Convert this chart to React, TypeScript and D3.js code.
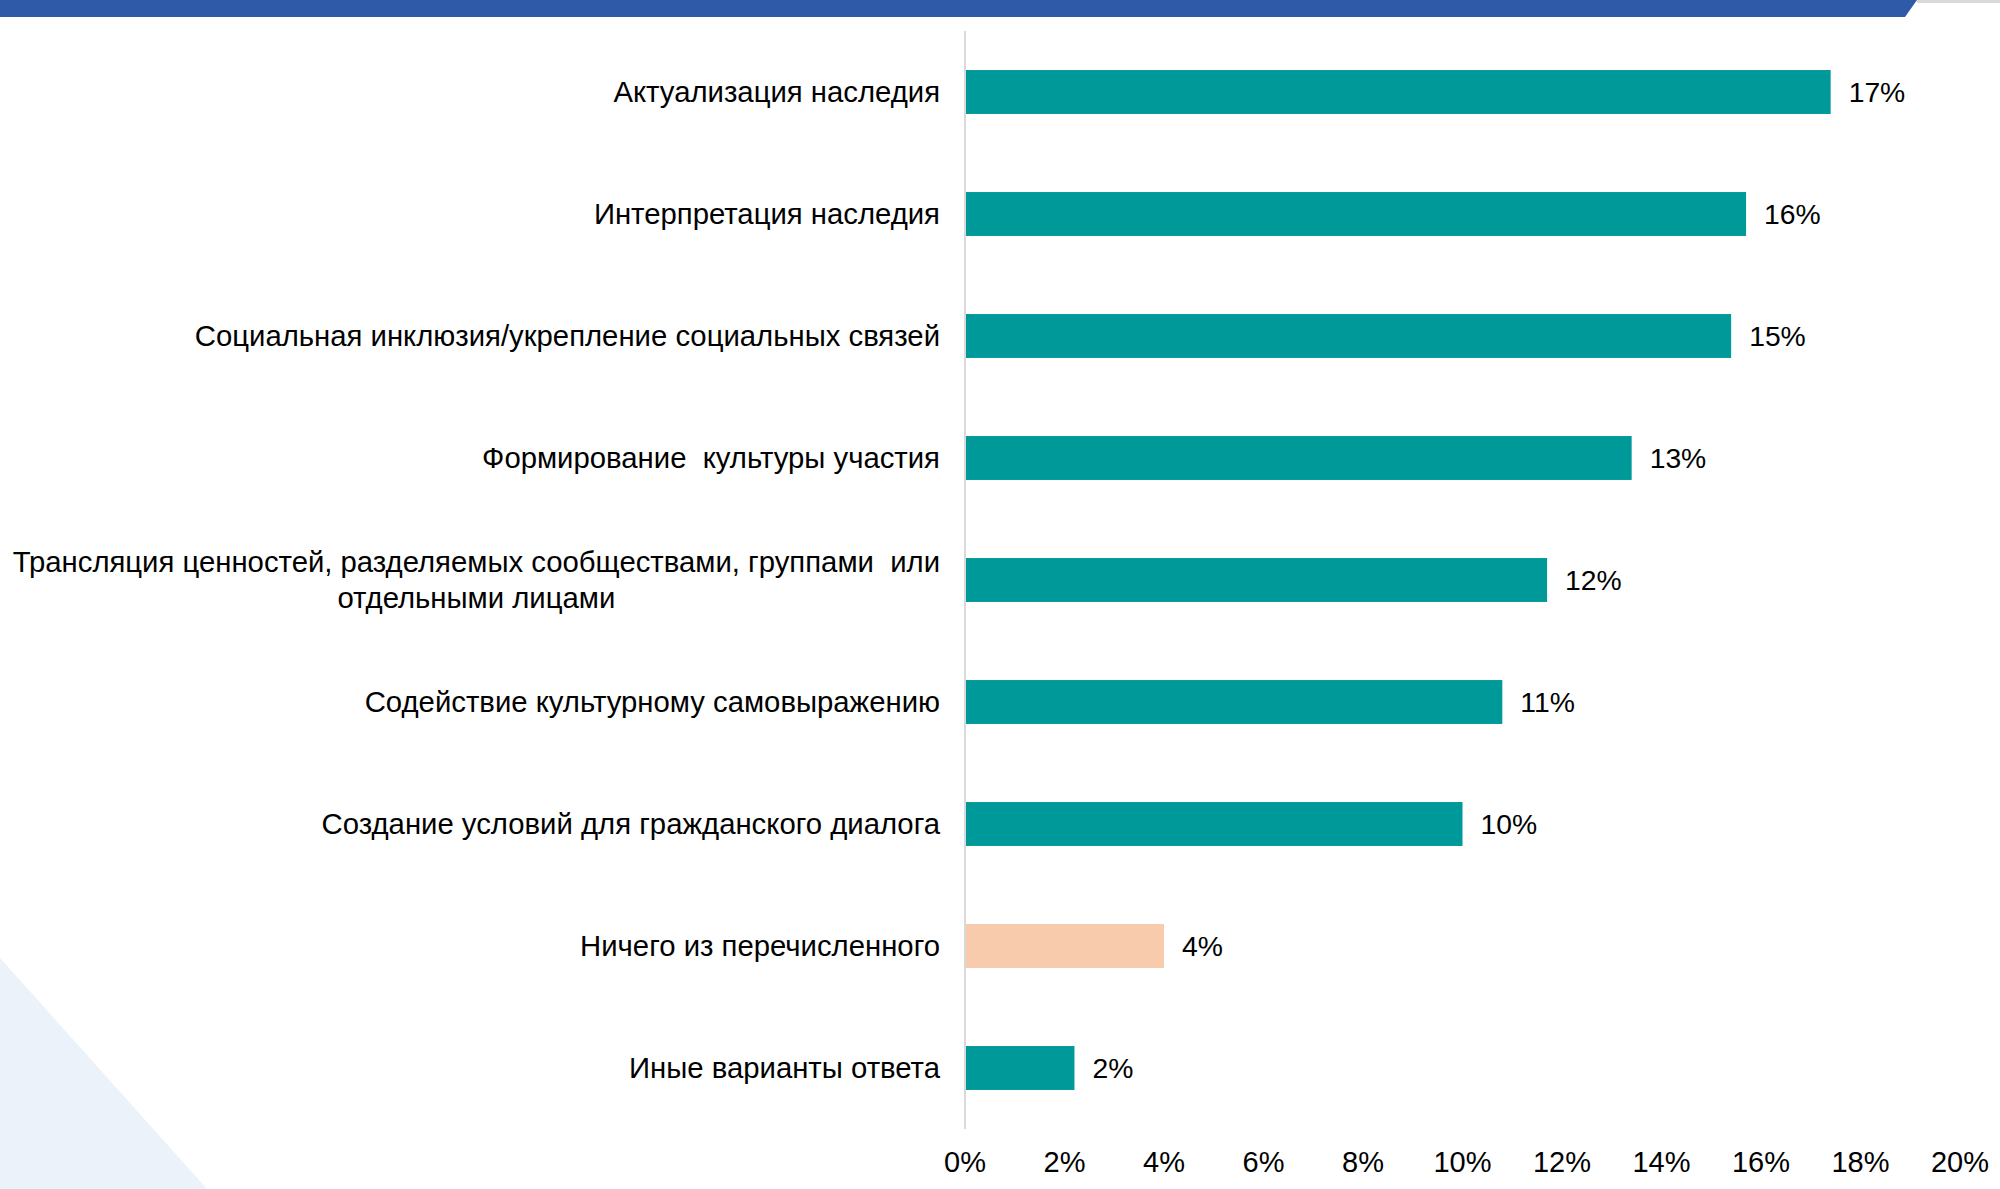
import React, { useEffect, useRef } from "react";
import * as d3 from "d3";

const categories: string[] = [
  "Актуализация наследия",
  "Интерпретация наследия",
  "Социальная инклюзия/укрепление социальных связей",
  "Формирование  культуры участия",
  "Трансляция ценностей, разделяемых сообществами, группами  или\nотдельными лицами",
  "Содействие культурному самовыражению",
  "Создание условий для гражданского диалога",
  "Ничего из перечисленного",
  "Иные варианты ответа",
];
const values: number[] = [17.4, 15.7, 15.4, 13.4, 11.7, 10.8, 10.0, 4.0, 2.2];
const neutralCategory = "Ничего из перечисленного";
const tickValues: number[] = [0, 2, 4, 6, 8, 10, 12, 14, 16, 18, 20];

const W = 2000;
const H = 1189;
const FONT = "'Liberation Sans', Arial, sans-serif";
const TEAL = "#009999";
const PEACH = "#F8CBAD";

export default function App() {
  const ref = useRef<SVGSVGElement | null>(null);

  useEffect(() => {
    const svg = d3.select(ref.current);
    svg.selectAll("*").remove();

    // background decorations
    svg
      .append("path")
      .attr("d", `M0,958 L207,${H} L0,${H} Z`)
      .attr("fill", "#EBF2FA");
    svg
      .append("path")
      .attr("d", `M0,0 L1917,0 L1905,17 L0,17 Z`)
      .attr("fill", "#2E5AA7");
    svg
      .append("line")
      .attr("x1", 1917)
      .attr("x2", W)
      .attr("y1", 1.5)
      .attr("y2", 1.5)
      .attr("stroke", "#D9D9D9")
      .attr("stroke-width", 3);

    const x = d3.scaleLinear().domain([0, 20]).range([965, 1960]);
    const y = d3
      .scaleBand<string>()
      .domain(categories)
      .range([31, 1129])
      .paddingInner(0.64)
      .paddingOuter(0.32);

    const data = categories.map((c, i) => ({ c, v: values[i] }));

    // bars
    svg
      .append("g")
      .selectAll("rect")
      .data(data)
      .join("rect")
      .attr("x", x(0))
      .attr("y", (d) => y(d.c)!)
      .attr("width", (d) => x(d.v) - x(0))
      .attr("height", y.bandwidth())
      .attr("fill", (d) => (d.c === neutralCategory ? PEACH : TEAL));

    // zero axis line
    svg
      .append("line")
      .attr("x1", x(0))
      .attr("x2", x(0))
      .attr("y1", 31)
      .attr("y2", 1129)
      .attr("stroke", "#D9D9D9")
      .attr("stroke-width", 2);

    // value labels
    svg
      .append("g")
      .selectAll("text")
      .data(data)
      .join("text")
      .attr("x", (d) => x(d.v) + 18)
      .attr("y", (d) => y(d.c)! + y.bandwidth() / 2)
      .attr("dy", "0.35em")
      .attr("font-family", FONT)
      .attr("font-size", 28.3)
      .attr("fill", "#000")
      .text((d) => `${Math.round(d.v)}%`);

    // category labels
    const labelRight = 940;
    const lineH = 35.7;
    const cg = svg.append("g");
    data.forEach((d) => {
      const lines = d.c.split("\n");
      const cy = y(d.c)! + y.bandwidth() / 2;
      const t = cg
        .append("text")
        .attr("font-family", FONT)
        .attr("font-size", 29.3)
        .attr("fill", "#000")
        .attr("xml:space", "preserve")
        .style("white-space", "pre");
      const tspans = lines.map((ln, i) =>
        t
          .append("tspan")
          .attr("y", cy + (i - (lines.length - 1) / 2) * lineH)
          .attr("dy", "0.35em")
          .text(ln)
      );
      if (lines.length === 1) {
        t.attr("text-anchor", "end");
        tspans[0].attr("x", labelRight);
      } else {
        const widths = tspans.map(
          (ts) => (ts.node() as SVGTextContentElement).getComputedTextLength()
        );
        const maxW = Math.max(...widths);
        t.attr("text-anchor", "middle");
        tspans.forEach((ts) => ts.attr("x", labelRight - maxW / 2));
      }
    });

    // x tick labels
    svg
      .append("g")
      .selectAll("text")
      .data(tickValues)
      .join("text")
      .attr("x", (d) => x(d))
      .attr("y", 1162)
      .attr("dy", "0.35em")
      .attr("text-anchor", "middle")
      .attr("font-family", FONT)
      .attr("font-size", 29)
      .attr("fill", "#000")
      .text((d) => `${d}%`);
  }, []);

  return (
    <svg
      ref={ref}
      width={W}
      height={H}
      style={{ position: "absolute", left: 0, top: 0, background: "#fff" }}
    />
  );
}
